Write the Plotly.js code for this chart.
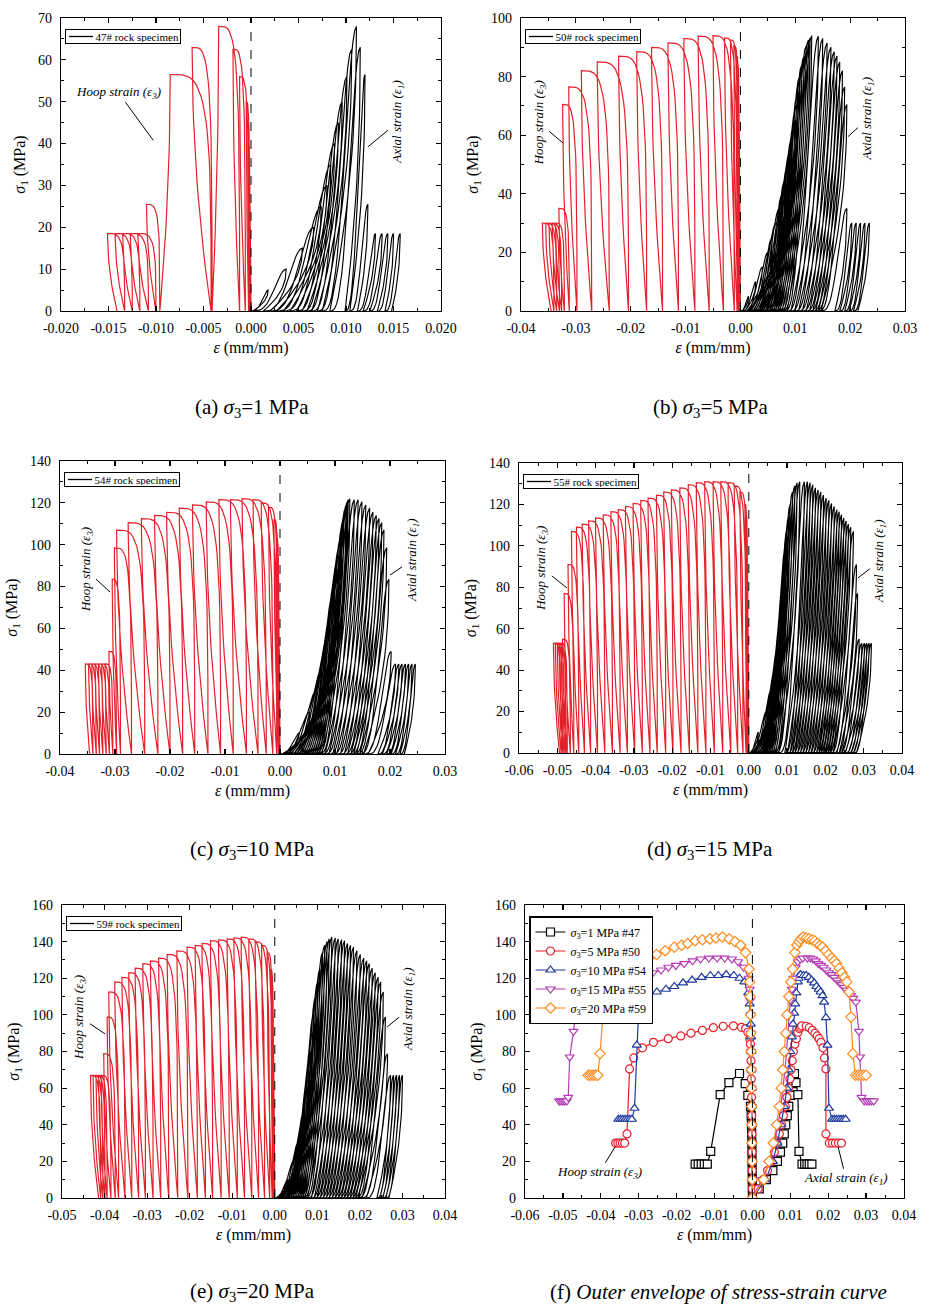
<!DOCTYPE html>
<html>
<head>
<meta charset="utf-8">
<script src="https://cdn.plot.ly/plotly-3.0.1.min.js"></script>
<style>
html,body{margin:0;padding:0;background:#fff}
#fig{width:930px;height:1305px}
</style>
</head>
<body>
<div id="fig"></div>
<script>
// Cyclic triaxial tests on rock specimens.
// For every cycle: peak stress s (MPa), hoop strain h and axial strain a at the
// start of unloading, and the residual hoop / axial strains hr, ar after unloading.
// Index 0 is the unloaded initial state.

// #47, confining pressure 1 MPa
const s47  = [0,5,10,15,20,25,30,35,40,45,50,56,62.5,68,63,56.5,25.5,18.5,18.5,18.5,18.5,18.5];
const h47  = [0,-0.00002,-0.00004,-0.00006,-0.00009,-0.00012,-0.00015,-0.0002,-0.00025,-0.00032,-0.0005,-0.0012,-0.0019,-0.0034,-0.0062,-0.0085,-0.0110,-0.0119,-0.0127,-0.0135,-0.0143,-0.0151];
const hr47 = [0,-0.00001,-0.00002,-0.00003,-0.00004,-0.00006,-0.00008,-0.0001,-0.00013,-0.00016,-0.00025,-0.0006,-0.0012,-0.0041,-0.0042,-0.0096,-0.0100,-0.0108,-0.0117,-0.0125,-0.0133,-0.0141];
const a47  = [0,0.0018,0.0037,0.0054,0.0066,0.0074,0.0080,0.0084,0.0088,0.0092,0.0096,0.0101,0.0106,0.0111,0.0115,0.0120,0.0123,0.0131,0.0138,0.0144,0.0150,0.0157];
const ar47 = [0,0.0002,0.0013,0.0020,0.0027,0.0034,0.0041,0.0048,0.0054,0.0059,0.0064,0.0070,0.0075,0.0083,0.0099,0.0104,0.0112,0.0118,0.0125,0.0133,0.0141,0.0148];

// #50, confining pressure 5 MPa
const s50  = [0,5,10,15,20,25,30,35,40,45,50,55,60,65,70,75,80,84,87,90.5,92.5,93.2,94,93.8,93,91.5,90,88.5,87,85,82,76.5,70.5,35,30,30,30,30,30];
const h50  = [0,-0.00002,-0.00003,-0.00005,-0.00006,-0.00008,-0.0001,-0.00012,-0.00014,-0.00016,-0.00019,-0.00022,-0.00025,-0.00028,-0.00032,-0.00036,-0.00041,-0.0005,-0.0007,-0.0012,-0.0018,-0.0029,-0.0050,-0.0077,-0.0103,-0.0132,-0.0162,-0.0189,-0.0222,-0.0261,-0.0290,-0.0313,-0.0324,-0.0331,-0.0337,-0.0343,-0.0349,-0.0355,-0.0361];
const hr50 = [0,-0.00001,-0.00001,-0.00002,-0.00003,-0.00004,-0.00005,-0.00006,-0.00007,-0.00008,-0.0001,-0.00011,-0.00012,-0.00014,-0.00016,-0.00018,-0.0002,-0.00024,-0.0003,-0.0004,-0.0006,-0.0011,-0.0031,-0.0057,-0.0083,-0.0113,-0.0142,-0.0171,-0.0204,-0.0239,-0.0271,-0.0298,-0.0312,-0.0321,-0.0326,-0.0330,-0.0335,-0.0340,-0.0345];
const a50  = [0,0.0015,0.0028,0.0040,0.0050,0.0058,0.0065,0.0071,0.0077,0.0082,0.0087,0.0091,0.0095,0.0099,0.0102,0.0105,0.0108,0.0112,0.0116,0.0120,0.0124,0.0127,0.0130,0.0142,0.0150,0.0158,0.0165,0.0171,0.0176,0.0181,0.0186,0.0190,0.0194,0.0194,0.0203,0.0211,0.0219,0.0227,0.0235];
const ar50 = [0,0.0003,0.0008,0.0012,0.0016,0.0019,0.0023,0.0027,0.0031,0.0034,0.0038,0.0042,0.0046,0.0049,0.0053,0.0057,0.0061,0.0064,0.0068,0.0072,0.0076,0.0080,0.0085,0.0092,0.0099,0.0106,0.0113,0.0120,0.0126,0.0132,0.0137,0.0142,0.0147,0.0172,0.0181,0.0190,0.0198,0.0206,0.0214];

// #54, confining pressure 10 MPa
const s54  = [0,10,20,30,40,50,60,70,80,88,95,101,106,112,118,120,121.5,122,121.5,121.5,120.5,119,117.5,115.5,114,112.5,110.5,107,98.5,83.5,49,43,43,43,43,43,43,43];
const h54  = [0,-0.00003,-0.00006,-0.0001,-0.00013,-0.00017,-0.0002,-0.00025,-0.0003,-0.00036,-0.00043,-0.0005,-0.0007,-0.0011,-0.0021,-0.0034,-0.0049,-0.0069,-0.0090,-0.0111,-0.0134,-0.0159,-0.0183,-0.0206,-0.0228,-0.0252,-0.0276,-0.0297,-0.0301,-0.0305,-0.0311,-0.0318,-0.0324,-0.0330,-0.0336,-0.0342,-0.0348,-0.0354];
const hr54 = [0,-0.00001,-0.00003,-0.00004,-0.00006,-0.00008,-0.0001,-0.00012,-0.00014,-0.00017,-0.0002,-0.00024,-0.0003,-0.0003,-0.0006,-0.0013,-0.0025,-0.0040,-0.0061,-0.0085,-0.0108,-0.0131,-0.0155,-0.0177,-0.0200,-0.0222,-0.0246,-0.0270,-0.0290,-0.0297,-0.0304,-0.0310,-0.0316,-0.0322,-0.0328,-0.0334,-0.0340,-0.0346];
const a54  = [0,0.0035,0.0054,0.0066,0.0076,0.0084,0.0091,0.0096,0.0100,0.0104,0.0107,0.0110,0.0113,0.0116,0.0120,0.0122,0.0124,0.0127,0.0135,0.0142,0.0149,0.0156,0.0163,0.0169,0.0175,0.0180,0.0185,0.0189,0.0194,0.0198,0.0202,0.0210,0.0216,0.0222,0.0228,0.0234,0.0240,0.0246];
const ar54 = [0,0.0004,0.0009,0.0015,0.0020,0.0025,0.0030,0.0035,0.0039,0.0043,0.0047,0.0051,0.0055,0.0059,0.0063,0.0067,0.0071,0.0076,0.0082,0.0089,0.0096,0.0103,0.0110,0.0117,0.0123,0.0129,0.0134,0.0139,0.0145,0.0152,0.0160,0.0178,0.0186,0.0194,0.0202,0.0210,0.0218,0.0226];

// #55, confining pressure 15 MPa
const s55  = [0,10,20,30,40,50,60,70,80,90,100,108,114,120,126,129,130.5,131,131,131,130.5,129.5,128,127,126,124.5,123,122,120.5,119,117.5,116.5,115,113.5,112,110.5,109,107,91,77,55,53,53,53,53,53];
const h55  = [0,-0.00003,-0.00006,-0.0001,-0.00014,-0.00018,-0.00023,-0.00028,-0.00034,-0.0004,-0.00048,-0.00058,-0.0007,-0.0010,-0.0023,-0.0038,-0.0054,-0.0073,-0.0093,-0.0115,-0.0137,-0.0158,-0.0180,-0.0202,-0.0222,-0.0241,-0.0263,-0.0282,-0.0302,-0.0322,-0.0341,-0.0360,-0.0380,-0.0400,-0.0418,-0.0435,-0.0450,-0.0463,-0.0472,-0.0482,-0.0486,-0.0490,-0.0495,-0.0500,-0.0505,-0.0510];
const hr55 = [0,-0.00001,-0.00003,-0.00005,-0.00007,-0.00009,-0.00011,-0.00014,-0.00017,-0.0002,-0.00024,-0.00028,-0.00034,-0.0004,-0.0007,-0.0015,-0.0029,-0.0047,-0.0068,-0.0090,-0.0112,-0.0133,-0.0155,-0.0177,-0.0198,-0.0217,-0.0239,-0.0258,-0.0278,-0.0298,-0.0317,-0.0336,-0.0356,-0.0376,-0.0395,-0.0413,-0.0429,-0.0444,-0.0457,-0.0466,-0.0474,-0.0478,-0.0482,-0.0486,-0.0490,-0.0494];
const a55  = [0,0.0025,0.0046,0.0058,0.0068,0.0075,0.0081,0.0086,0.0090,0.0093,0.0096,0.0100,0.0104,0.0108,0.0114,0.0120,0.0126,0.0133,0.0145,0.0153,0.0160,0.0167,0.0174,0.0181,0.0188,0.0195,0.0202,0.0209,0.0216,0.0223,0.0230,0.0236,0.0242,0.0248,0.0254,0.0260,0.0266,0.0273,0.0281,0.0284,0.0288,0.0295,0.0302,0.0308,0.0314,0.0320];
const ar55 = [0,0.0003,0.0008,0.0013,0.0018,0.0023,0.0028,0.0032,0.0036,0.0040,0.0044,0.0048,0.0052,0.0056,0.0060,0.0065,0.0070,0.0078,0.0094,0.0101,0.0108,0.0114,0.0121,0.0128,0.0135,0.0142,0.0149,0.0156,0.0163,0.0170,0.0177,0.0183,0.0189,0.0195,0.0201,0.0207,0.0213,0.0220,0.0230,0.0236,0.0242,0.0252,0.0260,0.0267,0.0274,0.0281];

// #59, confining pressure 20 MPa
const s59  = [0,10,20,30,40,50,60,70,80,90,100,110,118,125,134,138,140,141.5,142.5,142,141.5,141,140.5,139,138,137,135,133,131,129.5,128,125.5,123,120.5,118,112.5,98.8,78.8,67,67,67,67,67];
const h59  = [0,-0.00003,-0.00006,-0.0001,-0.00014,-0.00018,-0.00023,-0.00028,-0.00034,-0.0004,-0.00048,-0.00058,-0.0007,-0.0009,-0.0018,-0.0031,-0.0046,-0.0061,-0.0079,-0.0096,-0.0112,-0.0132,-0.0151,-0.0171,-0.0187,-0.0206,-0.0230,-0.0253,-0.0273,-0.0292,-0.0310,-0.0328,-0.0343,-0.0359,-0.0376,-0.0390,-0.0394,-0.0402,-0.0408,-0.0414,-0.0420,-0.0427,-0.0433];
const hr59 = [0,-0.00001,-0.00003,-0.00005,-0.00007,-0.00009,-0.00011,-0.00014,-0.00017,-0.0002,-0.00024,-0.00028,-0.00034,-0.0004,-0.0006,-0.0012,-0.0024,-0.0038,-0.0054,-0.0071,-0.0088,-0.0107,-0.0126,-0.0146,-0.0163,-0.0182,-0.0204,-0.0228,-0.0249,-0.0268,-0.0286,-0.0304,-0.0320,-0.0336,-0.0352,-0.0367,-0.0375,-0.0385,-0.0394,-0.0399,-0.0404,-0.0409,-0.0414];
const a59  = [0,0.0030,0.0044,0.0055,0.0064,0.0071,0.0076,0.0080,0.0084,0.0088,0.0091,0.0096,0.0101,0.0106,0.0112,0.0117,0.0123,0.0128,0.0134,0.0142,0.0149,0.0157,0.0164,0.0171,0.0178,0.0185,0.0193,0.0201,0.0209,0.0216,0.0222,0.0229,0.0236,0.0243,0.0249,0.0255,0.0260,0.0265,0.0272,0.0279,0.0286,0.0293,0.0300];
const ar59 = [0,0.0003,0.0008,0.0013,0.0018,0.0022,0.0026,0.0030,0.0034,0.0038,0.0042,0.0046,0.0050,0.0054,0.0058,0.0062,0.0066,0.0071,0.0077,0.0086,0.0093,0.0100,0.0107,0.0114,0.0121,0.0128,0.0135,0.0142,0.0149,0.0156,0.0163,0.0170,0.0177,0.0184,0.0190,0.0196,0.0205,0.0215,0.0240,0.0247,0.0254,0.0261,0.0268];

// Tick positions and labels
const xtA = [-0.02,-0.015,-0.01,-0.005,0,0.005,0.01,0.015,0.02];
const xlA = ['-0.020','-0.015','-0.010','-0.005','0.000','0.005','0.010','0.015','0.020'];
const xtB = [-0.04,-0.03,-0.02,-0.01,0,0.01,0.02,0.03];
const xlB = ['-0.04','-0.03','-0.02','-0.01','0.00','0.01','0.02','0.03'];
const xtD = [-0.06,-0.05,-0.04,-0.03,-0.02,-0.01,0,0.01,0.02,0.03,0.04];
const xlD = ['-0.06','-0.05','-0.04','-0.03','-0.02','-0.01','0.00','0.01','0.02','0.03','0.04'];
const xtE = [-0.05,-0.04,-0.03,-0.02,-0.01,0,0.01,0.02,0.03,0.04];
const xlE = ['-0.05','-0.04','-0.03','-0.02','-0.01','0.00','0.01','0.02','0.03','0.04'];

const specimenNames = ['47# rock specimen','50# rock specimen','54# rock specimen','55# rock specimen','59# rock specimen'];
const envelopeNames = ['<i>σ</i><sub>3</sub>=1 MPa #47','<i>σ</i><sub>3</sub>=5 MPa #50','<i>σ</i><sub>3</sub>=10 MPa #54','<i>σ</i><sub>3</sub>=15 MPa #55','<i>σ</i><sub>3</sub>=20 MPa #59'];
const captions = ['(a) <i>σ</i><sub>3</sub>=1 MPa','(b) <i>σ</i><sub>3</sub>=5 MPa','(c) <i>σ</i><sub>3</sub>=10 MPa','(d) <i>σ</i><sub>3</sub>=15 MPa','(e) <i>σ</i><sub>3</sub>=20 MPa','(f) <i>Outer envelope of stress-strain curve</i>'];

const RED = '#e4202a';
const SEG = 18;

// Hoop loops: reloading rises from the last residual strain and rolls over onto the
// stress plateau up to the unloading point; unloading drops almost vertically.
function hoopPath(s, h, hr) {
  const x = [hr[0]], y = [s[0]];
  for (let k = 1; k < s.length; k++) {
    const x0 = hr[k - 1], xc = h[k], top = s[k];
    for (let j = 1; j <= SEG; j++) {
      const t = j / SEG * Math.PI / 2;
      x.push(xc + (x0 - xc) * Math.sqrt(Math.max(Math.cos(t), 0)));
      y.push(top * Math.sqrt(Math.sin(t)));
    }
    for (let j = 1; j <= SEG; j++) {
      const t = j / SEG;
      x.push(xc + (hr[k] - xc) * t * t);
      y.push(top * (1 - t));
    }
  }
  return {x, y};
}

// Axial loops: reloading starts soft, stiffens and rounds over into the peak;
// unloading leaves the peak steeply and flattens towards the residual strain.
function axialPath(s, a, ar) {
  const x = [ar[0]], y = [s[0]];
  for (let k = 1; k < s.length; k++) {
    const x0 = ar[k - 1], xp = a[k], top = s[k];
    for (let j = 1; j <= SEG; j++) {
      const u = j / SEG;
      x.push(x0 + (xp - x0) * u);
      y.push(top * (1 - Math.cos(Math.PI * Math.pow(u, 1.5))) / 2);
    }
    for (let j = 1; j <= SEG; j++) {
      const t = j / SEG;
      x.push(xp - (xp - ar[k]) * Math.pow(t, 2.2));
      y.push(top * (1 - t));
    }
  }
  return {x, y};
}

const specimens = [
  {s: s47, h: h47, hr: hr47, a: a47, ar: ar47},
  {s: s50, h: h50, hr: hr50, a: a50, ar: ar50},
  {s: s54, h: h54, hr: hr54, a: a54, ar: ar54},
  {s: s55, h: h55, hr: hr55, a: a55, ar: ar55},
  {s: s59, h: h59, hr: hr59, a: a59, ar: ar59}
];

// Plot areas in pixels: [left, right, top, bottom]
const W = 930, H = 1305;
const boxes = [
  [61, 441, 18, 311], [521, 905, 18, 311],
  [60, 445, 461, 754], [519, 902, 463, 753],
  [62, 445, 905, 1198], [525, 904, 905, 1198]
];
const xTicks = [[xtA, xlA], [xtB, xlB], [xtB, xlB], [xtD, xlD], [xtE, xlE], [xtD, xlD]];
const xRanges = [[-0.02, 0.02], [-0.04, 0.03], [-0.04, 0.03], [-0.06, 0.04], [-0.05, 0.04], [-0.06, 0.04]];
const xMinor = [0.0025, 0.005, 0.005, 0.005, 0.005, 0.005];
const yRanges = [[0, 70], [0, 100], [0, 140], [0, 140], [0, 160], [0, 160]];
const yMajor = [10, 20, 20, 20, 20, 20];

const FONT = 'Liberation Serif';
const layout = {
  width: W, height: H,
  margin: {l: 0, r: 0, t: 0, b: 0},
  paper_bgcolor: '#fff', plot_bgcolor: '#fff',
  font: {family: FONT, color: '#000', size: 14},
  showlegend: true,
  hovermode: false,
  shapes: [], annotations: []
};

boxes.forEach((b, i) => {
  const n = i === 0 ? '' : String(i + 1);
  layout['xaxis' + n] = {
    domain: [b[0] / W, b[1] / W], anchor: 'y' + n, range: xRanges[i],
    tickmode: 'array', tickvals: xTicks[i][0], ticktext: xTicks[i][1],
    ticks: 'inside', ticklen: 5, tickwidth: 1.2, tickcolor: '#000', ticklabelstandoff: 4,
    minor: {ticks: 'inside', ticklen: 3, tickwidth: 1, tickcolor: '#000', tickmode: 'linear', tick0: 0, dtick: xMinor[i]},
    showline: true, linecolor: '#000', linewidth: 1.3, mirror: 'allticks',
    showgrid: false, zeroline: false,
    tickfont: {size: 14, family: FONT, color: '#000'},
    title: {text: '<i>ε</i> (mm/mm)', font: {size: 16, family: FONT, color: '#000'}, standoff: 6}
  };
  layout['yaxis' + n] = {
    domain: [1 - b[3] / H, 1 - b[2] / H], anchor: 'x' + n, range: yRanges[i],
    tickmode: 'linear', tick0: 0, dtick: yMajor[i],
    ticks: 'inside', ticklen: 5, tickwidth: 1.2, tickcolor: '#000', ticklabelstandoff: 5,
    minor: {ticks: 'inside', ticklen: 3, tickwidth: 1, tickcolor: '#000', tickmode: 'linear', tick0: 0, dtick: yMajor[i] / 2},
    showline: true, linecolor: '#000', linewidth: 1.3, mirror: 'allticks',
    showgrid: false, zeroline: false,
    tickfont: {size: 14, family: FONT, color: '#000'},
    title: {text: '<i>σ</i><sub>1</sub> (MPa)', font: {size: 16, family: FONT, color: '#000'}, standoff: 8}
  };
  // zero-strain reference line
  layout.shapes.push({type: 'line', xref: 'x' + n, yref: 'y' + n + ' domain', x0: 0, x1: 0, y0: 0, y1: 1,
    line: {color: '#000', width: 1, dash: 'dash'}, layer: 'above'});
});

const traces = [];
specimens.forEach((sp, i) => {
  const n = i === 0 ? '' : String(i + 1);
  const hp = hoopPath(sp.s, sp.h, sp.hr);
  const ap = axialPath(sp.s, sp.a, sp.ar);
  traces.push({type: 'scatter', mode: 'lines', x: hp.x, y: hp.y, xaxis: 'x' + n, yaxis: 'y' + n,
    line: {color: RED, width: 1.2}, showlegend: false, hoverinfo: 'skip'});
  traces.push({type: 'scatter', mode: 'lines', x: ap.x, y: ap.y, xaxis: 'x' + n, yaxis: 'y' + n,
    line: {color: '#000', width: 1.15}, name: specimenNames[i], showlegend: false, hoverinfo: 'skip'});
  // specimen key: framed label with a line sample
  const b = boxes[i];
  const kx = b[0] + 4, ky = b[2] + 11;
  layout.annotations.push({xref: 'paper', yref: 'paper', x: kx / W, y: 1 - ky / H,
    xanchor: 'left', yanchor: 'top', width: 112, height: 11, align: 'right',
    text: specimenNames[i], showarrow: false, bgcolor: 'rgba(255,255,255,0)', bordercolor: '#000',
    borderwidth: 1, borderpad: 1, font: {size: 11, family: FONT, color: '#000'}});
  layout.shapes.push({type: 'line', xref: 'paper', yref: 'paper',
    x0: (kx + 4) / W, x1: (kx + 28) / W, y0: 1 - (ky + 7.5) / H, y1: 1 - (ky + 7.5) / H,
    line: {color: '#000', width: 1.3}, layer: 'above'});
});

// Outer envelopes: hoop branch (reversed) joined to the axial branch at the origin
const envColors = ['#000000', '#e8212b', '#1f3a9c', '#b43cb4', '#ff8a1c'];
const envSymbols = ['square', 'circle', 'triangle-up', 'triangle-down', 'diamond'];
specimens.forEach((sp, i) => {
  const xs = sp.h.slice().reverse().concat(sp.a.slice(1));
  const ys = sp.s.slice().reverse().concat(sp.s.slice(1));
  traces.push({type: 'scatter', mode: 'lines+markers', x: xs, y: ys, xaxis: 'x6', yaxis: 'y6',
    name: envelopeNames[i], legend: 'legend', showlegend: true,
    line: {color: envColors[i], width: 1.2},
    marker: {symbol: envSymbols[i], size: 8, color: '#fff', line: {color: envColors[i], width: 1.2}},
    hoverinfo: 'skip'});
});
layout.legend = {x: 529 / W, y: 1 - 916 / H, xanchor: 'left', yanchor: 'top',
  bgcolor: '#fff', bordercolor: '#000', borderwidth: 1.5, font: {size: 12, family: FONT, color: '#000'},
  itemwidth: 30, tracegroupgap: 0};

// Branch labels with leader lines
const hoopText = '<i>Hoop strain (ε<sub>3</sub>)</i>';
const axialText = '<i>Axial strain (ε<sub>1</sub>)</i>';
const labels = [
  ['', hoopText, -0.0103, 40.8, -35, -48, 0], ['', axialText, 0.0123, 39.2, 30, -25, -90],
  ['2', hoopText, -0.0323, 57.3, -24, -20, -90], ['2', axialText, 0.0196, 59.5, 20, -18, -90],
  ['3', hoopText, -0.0309, 77.4, -24, -22, -90], ['3', axialText, 0.0200, 85.5, 22, -15, -90],
  ['4', hoopText, -0.0475, 79.7, -25, -20, -90], ['4', axialText, 0.0285, 84.5, 22, -17, -90],
  ['5', hoopText, -0.0399, 89.6, -25, -17, -90], ['5', axialText, 0.0264, 93.4, 22, -18, -90],
  ['6', hoopText, -0.0362, 28, -16, 26, 0], ['6', axialText, 0.0226, 28, 8, 32, 0]
];
labels.forEach(l => {
  layout.annotations.push({xref: 'x' + l[0], yref: 'y' + l[0], x: l[2], y: l[3], ax: l[4], ay: l[5],
    text: l[1], textangle: l[6], showarrow: true, arrowhead: 0, arrowwidth: 1, arrowcolor: '#000',
    standoff: 0, font: {size: 13, family: FONT, color: '#000'}});
});

// Sub-figure captions
const capPos = [[252, 408], [710, 408], [252, 850], [710, 850], [252, 1292], [718, 1292]];
captions.forEach((c, i) => {
  layout.annotations.push({xref: 'paper', yref: 'paper', x: capPos[i][0] / W, y: 1 - capPos[i][1] / H,
    xanchor: 'center', yanchor: 'middle', text: c, showarrow: false,
    font: {size: 21, family: FONT, color: '#000'}});
});

Plotly.newPlot('fig', traces, layout, {staticPlot: true, displayModeBar: false});
</script>
</body>
</html>
